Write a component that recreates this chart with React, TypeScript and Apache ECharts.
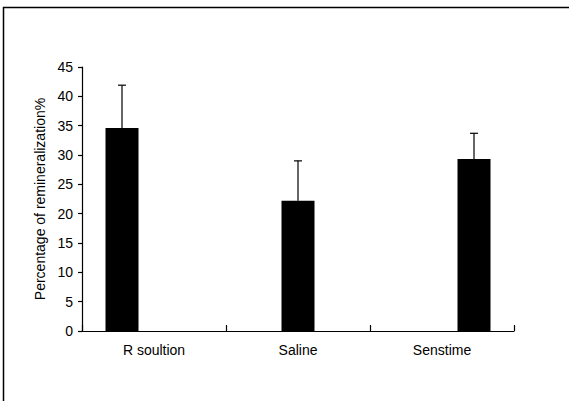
import React, { useEffect, useRef } from "react";
import * as echarts from "echarts";

const categories = ["R soultion", "Saline", "Senstime"];
const means = [34.6, 22.2, 29.3];
const errors = [7.3, 6.8, 4.4];
const yTicks = { min: 0, max: 45, interval: 5 };

export default function App() {
  const ref = useRef<HTMLDivElement>(null);
  useEffect(() => {
    document.body.style.margin = "0";
    const chart = echarts.init(ref.current!, null, { renderer: "svg" });
    const barWidth = 33;
    const barGapPx = -1;
    const n = categories.length;
    const offsets = categories.map((_, i) => (i - (n - 1) / 2) * (barWidth + barGapPx));
    const barSeries = categories.map((c, i) => ({
      type: "bar",
      name: c,
      data: categories.map((_, j) => (j === i ? means[i] : null)),
      barWidth,
      barGap: `${(barGapPx / barWidth) * 100}%`,
      itemStyle: { color: "#000" },
    }));
    const errData = categories.map((_, i) => [i, means[i], errors[i], offsets[i]]);
    const font = "Arial, 'Liberation Sans', Helvetica, sans-serif";
    chart.setOption({
      animation: false,
      backgroundColor: "#fff",
      grid: { left: 82, right: 55, top: 67, bottom: 70, containLabel: false },
      xAxis: {
        type: "category",
        data: categories,
        axisLine: { lineStyle: { color: "#000", width: 1.2 } },
        axisTick: { show: true, inside: true, length: 6, lineStyle: { color: "#000", width: 1.2 } },
        axisLabel: { color: "#000", fontSize: 14, fontFamily: font, margin: 12 },
        splitLine: { show: false },
      },
      yAxis: {
        type: "value",
        min: yTicks.min,
        max: yTicks.max,
        interval: yTicks.interval,
        name: "Percentage of remineralization%",
        nameLocation: "middle",
        nameGap: 33,
        nameTextStyle: { color: "#000", fontSize: 14, fontFamily: font },
        axisLine: { show: true, lineStyle: { color: "#000", width: 1.2 } },
        axisTick: { show: true, length: 4, lineStyle: { color: "#000", width: 1.2 } },
        axisLabel: { color: "#000", fontSize: 14, fontFamily: font, margin: 9 },
        splitLine: { show: false },
      },
      series: [
        ...barSeries,
        {
          type: "custom",
          data: errData,
          z: 10,
          renderItem: (params: any, api: any) => {
            const x = api.value(0);
            const m = api.value(1);
            const e = api.value(2);
            const off = api.value(3);
            const base = api.coord([x, m]);
            const top = api.coord([x, m + e]);
            const cx = base[0] + off;
            const style = { stroke: "#000", lineWidth: 1.2 };
            return {
              type: "group",
              children: [
                { type: "line", shape: { x1: cx, y1: base[1], x2: cx, y2: top[1] }, style },
                { type: "line", shape: { x1: cx - 4, y1: top[1], x2: cx + 4, y2: top[1] }, style },
              ],
            };
          },
        },
      ],
      graphic: [
        {
          type: "rect",
          shape: { x: 3.5, y: 7.5, width: 700, height: 500 },
          style: { fill: "none", stroke: "#000", lineWidth: 1.5 },
          silent: true,
        },
      ],
    });
    return () => chart.dispose();
  }, []);
  return (
    <div
      ref={ref}
      style={{ position: "absolute", left: 0, top: 0, width: 569, height: 401 }}
    />
  );
}
